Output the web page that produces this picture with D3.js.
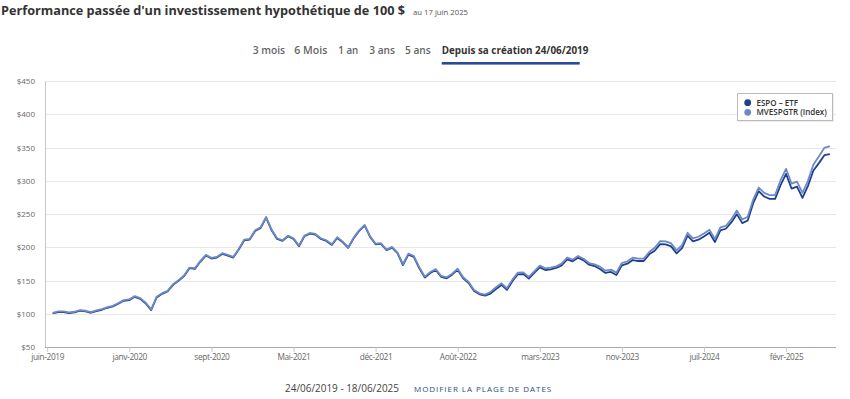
<!DOCTYPE html>
<html><head><meta charset="utf-8">
<script src="https://cdn.jsdelivr.net/npm/d3@7"></script>
<style>
html,body{margin:0;padding:0;background:#fff;}
svg{display:block;font-family:'Open Sans',sans-serif;}
</style>
</head><body>
<svg id="chart" width="850" height="399"></svg>
<script>
// ---- data (one value per period, index 1..143) ----
const espo = [
100.5,102.5,102.5,101,102,104.5,103.5,101.5,104,106,
109,111,115,119.5,120.5,125.5,122.5,115.5,105.5,124.5,
130,133.5,143.5,149.5,156.5,168.5,167.5,178.5,187.5,183,
184.5,190,187.5,184.5,196.5,210.5,211.5,224.5,229,244.5,
225.5,212.5,209.5,216.5,212.5,201.5,216.5,220.5,219,212.5,
209.5,203.5,214,207.5,199,213.5,224.5,232.5,215.5,204.5,
205,195.5,199.5,191,173.3,188.8,185.3,168.3,154.3,161.3,
165.8,155.3,153.3,158.8,166.3,153.3,146.3,134.3,129.3,127.3,
130.3,137.3,143.3,135.8,148.8,159.3,159.8,152.8,161.3,169.8,
165.8,166.8,168.8,172.8,181.8,178.8,184.3,180.3,173.8,171.8,
167.3,161.3,162.8,158.3,172.8,175.3,180.8,179.3,179.3,189.3,
194.8,204.8,204.3,201.3,190.8,198.8,217.3,208.8,211.3,216.3,
221.8,207.8,225.3,227.8,237.3,249.8,236.3,240.3,266.3,284.3,
276.3,272.8,272.8,293.3,310.3,288.3,291.3,274.3,292.3,315.5,
326.5,338.5,340
];
const mvespgtr = [
101.5,103.5,103.5,102,103,105.5,104.5,102.5,105,107,
110,112,116,120.5,121.5,126.5,123.5,116.5,106.5,125.5,
131,134.5,144.5,150.5,157.5,169.5,168.5,179.5,188.5,184,
185.5,191,188.5,185.5,197.5,211.5,212.5,225.5,230,245.5,
226.5,213.5,210.5,217.5,213.5,202.5,217.5,221.5,220,213.5,
210.5,204.5,215,208.5,200,214.5,225.5,233.5,216.5,205.5,
206,196.5,200.5,192,174.8,190.3,186.8,169.8,155.8,162.8,
167.3,156.8,154.8,160.3,167.8,154.8,147.8,135.8,130.8,128.8,
132.8,139.8,145.8,138.3,151.3,161.8,162.3,155.3,163.8,172.3,
168.3,169.3,171.3,175.3,184.3,181.3,186.8,182.8,176.3,174.3,
170.8,164.8,166.3,161.8,176.3,178.8,184.3,182.8,182.8,192.8,
199.3,209.3,208.8,205.8,195.3,203.3,221.8,213.3,215.8,220.8,
226.3,212.3,229.8,232.3,241.8,255.3,241.8,245.8,271.8,289.8,
281.8,278.3,278.3,300.8,317.8,295.8,298.8,281.8,299.8,324.5,
336.5,349.5,352
];
const seriesNames = ["ESPO – ETF", "MVESPGTR (Index)"];
const tickLabels = ["juin-2019","janv-2020","sept-2020","Mai-2021","déc-2021","Août-2022","mars-2023","nov-2023","juil-2024","févr-2025"];
const tickIndex = [0,15,30,45,60,75,90,105,120,135];
const yTicks = [50,100,150,200,250,300,350,400,450];
const tabLabels = ["3 mois","6 Mois","1 an","3 ans","5 ans","Depuis sa création 24/06/2019"];
const titleText = "Performance passée d'un investissement hypothétique de 100 $";
const asOfText = "au 17 juin 2025";
const rangeText = "24/06/2019 - 18/06/2025";
const linkText = "MODIFIER LA PLAGE DE DATES";

// ---- layout ----
const colors = ["#1f3f8f", "#6d8ac4"];
const plot = {left: 45, right: 836, top: 81, bottom: 347};
const tabBoxes = [[252.7, 32.3], [294.3, 33], [338.3, 20], [369.3, 25.7], [405, 25.7], [441.7, 146.6]];
const svg = d3.select("#chart");

const x = d3.scaleLinear().domain([0, 143]).range([47.2, 47.2 + 143 * 5.473]);
const y = d3.scaleLinear().domain([50, 450]).range([plot.bottom, plot.top]);

// title
svg.append("text").attr("x", 1).attr("y", 14.5)
  .attr("font-size", 13).attr("font-weight", 700).attr("fill", "#333")
  .attr("textLength", 404).attr("lengthAdjust", "spacingAndGlyphs")
  .text(titleText);
svg.append("text").attr("x", 413).attr("y", 14.5)
  .attr("font-size", 8).attr("fill", "#555")
  .attr("textLength", 55).attr("lengthAdjust", "spacingAndGlyphs")
  .text(asOfText);

// tabs
const tabG = svg.append("g");
tabLabels.forEach((t, i) => {
  const active = i === tabLabels.length - 1;
  const [bx, bw] = tabBoxes[i];
  tabG.append("text").attr("x", bx).attr("y", 54)
    .attr("font-size", 11).attr("font-weight", active ? 700 : 600)
    .attr("fill", active ? "#333" : "#666")
    .attr("textLength", bw).attr("lengthAdjust", "spacingAndGlyphs").text(t);
  if (active) {
    tabG.append("rect").attr("x", bx).attr("y", 62).attr("width", 138).attr("height", 2.6)
      .attr("fill", "#2a4a94");
  }
});

// grid
svg.append("g").selectAll("line").data(yTicks.slice(1)).join("line")
  .attr("x1", plot.left).attr("x2", plot.right)
  .attr("y1", d => Math.round(y(d)) + 0.5).attr("y2", d => Math.round(y(d)) + 0.5)
  .attr("stroke", "#e8e8e8").attr("stroke-width", 1);

// y axis
const yAxis = svg.append("g").attr("transform", `translate(${plot.left},0)`)
  .call(d3.axisLeft(y).tickValues(yTicks).tickFormat(d => "$" + d).tickSize(0).tickPadding(10));
yAxis.select(".domain").attr("stroke", "#c8c8c8");
yAxis.selectAll("text").attr("font-size", 8).attr("fill", "#666").attr("font-family", "'Open Sans',sans-serif");

// x axis
const xAxis = svg.append("g").attr("transform", `translate(0,${plot.bottom})`)
  .call(d3.axisBottom(x).tickValues(tickIndex).tickFormat((d, i) => tickLabels[i]).tickSize(5).tickPadding(2).tickSizeOuter(0));
xAxis.select(".domain").attr("d", `M${plot.left},0.5H${plot.right}`).attr("stroke", "#a8a8a8");
xAxis.selectAll(".tick line").attr("stroke", "#c8c8c8");
xAxis.selectAll("text").attr("font-size", 8.3).attr("fill", "#666").attr("font-family", "'Open Sans',sans-serif").attr("letter-spacing", -0.35);

// lines
const line = d3.line().x((d, i) => x(i + 1)).y(d => y(d)).curve(d3.curveLinear);
[espo, mvespgtr].forEach((s, k) => {
  svg.append("path").datum(s).attr("d", line).attr("fill", "none")
    .attr("stroke", colors[k]).attr("stroke-width", 1.8).attr("stroke-linejoin", "round");
});

// legend
const lg = svg.append("g").attr("transform", "translate(737,93)");
lg.append("rect").attr("x", 1).attr("y", 1).attr("width", 96).attr("height", 28).attr("fill", "#ddd").attr("opacity", 0.6);
lg.append("rect").attr("x", 0.5).attr("y", 0.5).attr("width", 95).attr("height", 27)
  .attr("fill", "#fff").attr("stroke", "#bbb");
seriesNames.forEach((n, i) => {
  lg.append("circle").attr("cx", 10.7).attr("cy", 9.7 + i * 9.6).attr("r", 3.4).attr("fill", colors[i]);
  lg.append("text").attr("x", 19.5).attr("y", 12.7 + i * 9.6).attr("font-size", 8)
    .attr("font-weight", 600).attr("fill", "#333").text(n);
});

// bottom texts
svg.append("text").attr("x", 285).attr("y", 392).attr("font-size", 10.5).attr("fill", "#444")
  .attr("textLength", 114).attr("lengthAdjust", "spacingAndGlyphs").text(rangeText);
svg.append("text").attr("x", 414).attr("y", 392).attr("font-size", 8).attr("fill", "#2c4a8a")
  .attr("letter-spacing", 0.95).text(linkText);
</script>
</body></html>
